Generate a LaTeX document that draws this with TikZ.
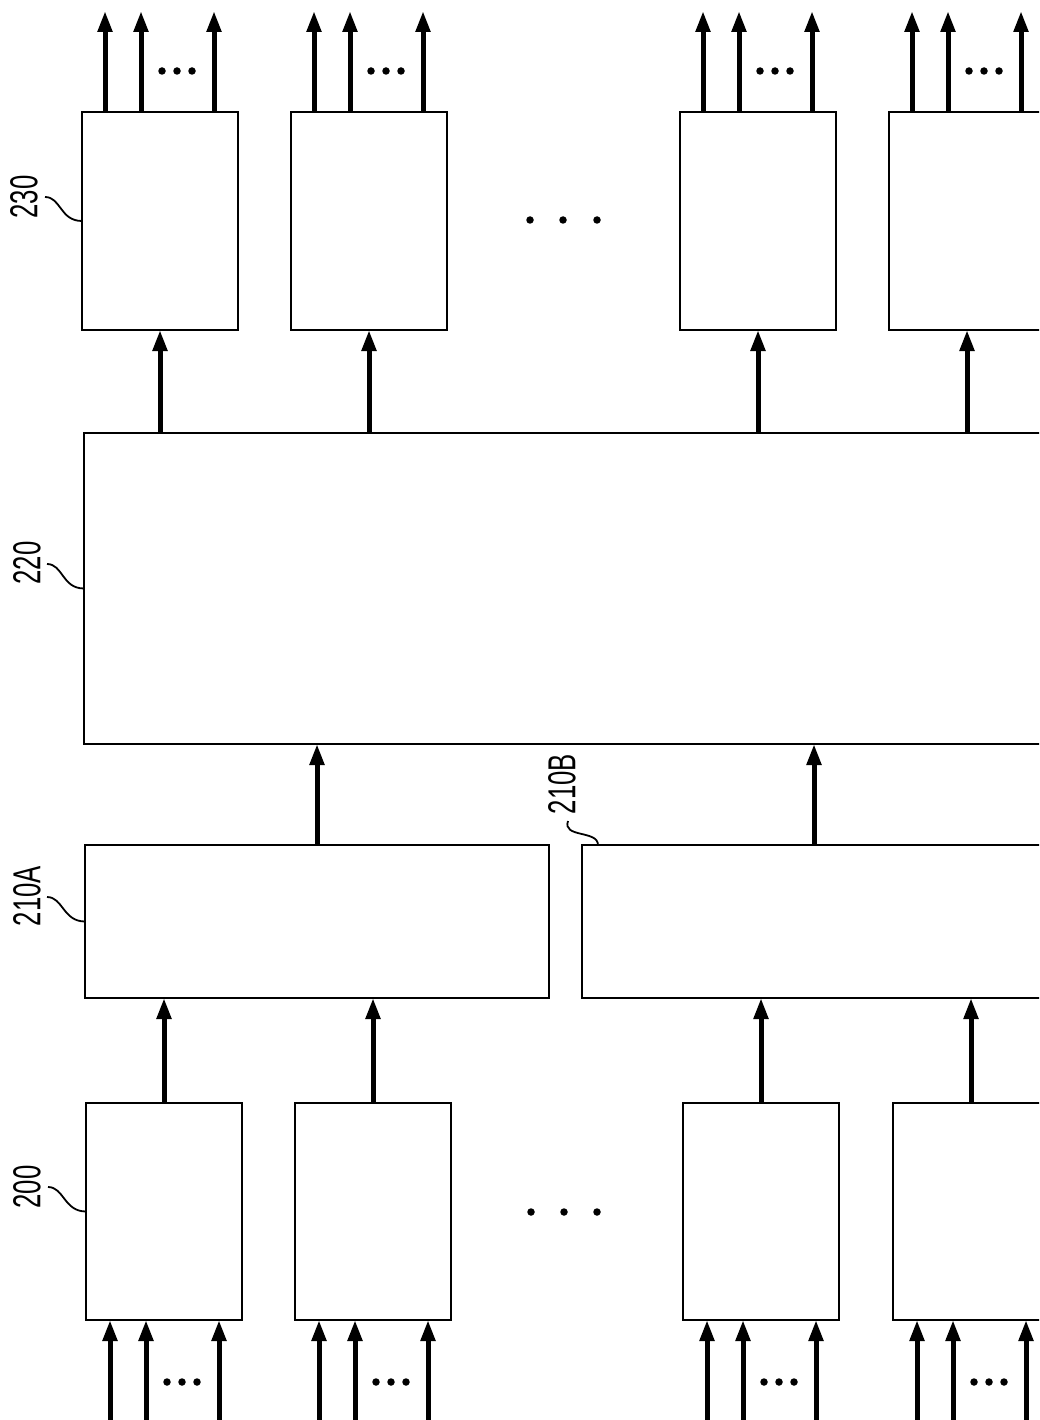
\documentclass[tikz,border=0pt]{standalone}
\usepackage{fontspec}
\newfontfamily\lblfont[FakeStretch=0.66]{Liberation Sans}
\usetikzlibrary{arrows.meta,calc}
\begin{document}
\begin{tikzpicture}[x=1pt,y=-1pt,
  box/.style={draw, line width=1.8pt, rectangle, inner sep=0pt, outer sep=0pt, anchor=north west},
  sig/.style={line width=5pt, -{Triangle[length=21pt,width=14pt]}},
  lbl/.style={font=\lblfont\fontsize{39}{39}\selectfont, rotate=90, inner sep=0pt},
  lead/.style={line width=1.8pt},
  dotn/.style={circle, fill, inner sep=0pt, minimum size=7.5pt}]
\useasboundingbox (0,0) rectangle (1039,1420);
\clip (0,0) rectangle (1039,1420);

% output boxes 230
\foreach \n/\x in {1/82,2/291,3/680,4/889}
  \node[box, minimum width=156pt, minimum height=218pt] (o\n) at (\x,112) {};
% box 220
\node[box, minimum width=962pt, minimum height=311pt] (s) at (84,433) {};
% boxes 210A, 210B
\node[box, minimum width=464pt, minimum height=153pt] (a) at (85,845) {};
\node[box, minimum width=464pt, minimum height=153pt] (b) at (582,845) {};
% input boxes 200
\foreach \n/\x in {1/86,2/295,3/683,4/893}
  \node[box, minimum width=156pt, minimum height=217pt] (i\n) at (\x,1103) {};

% output arrows
\foreach \n in {1,2,3,4} {
  \foreach \k/\dx in {a/23,b/59,c/132} {
    \coordinate (ot\n\k) at ($(o\n.north west)+(\dx,-101)$);
    \draw[sig] (o\n.north west -| ot\n\k) -- (ot\n\k);
  }
  \foreach \k/\dx in {a/80,b/95,c/110}
    \node[dotn] (od\n\k) at ($(o\n.north west)+(\dx,-41)$) {};
}

% input arrows
\foreach \n in {1,2,3,4} {
  \foreach \k/\dx in {a/24,b/60,c/133} {
    \coordinate (in\n\k) at ($(i\n.south west)+(\dx,110)$);
    \draw[sig] (in\n\k) -- (i\n.south west -| in\n\k);
  }
  \foreach \k/\dx in {a/81,b/96,c/111}
    \node[dotn] (id\n\k) at ($(i\n.south west)+(\dx,62)$) {};
}

% inter-stage arrows
\foreach \n in {1,2,3,4}
  \draw[sig] (s.north -| o\n.south) -- (o\n.south);
\draw[sig] (a.north) -- (s.south -| a.north);
\draw[sig] (b.north) -- (s.south -| b.north);
\foreach \n in {1,2}
  \draw[sig] (i\n.north) -- (a.south -| i\n.north);
\foreach \n in {3,4}
  \draw[sig] (i\n.north) -- (b.south -| i\n.north);

% ellipses between columns
\node[dotn] (e1) at (530,220) {};
\node[dotn] (e2) at (563,220) {};
\node[dotn] (e3) at (597,220) {};
\node[dotn] (f1) at (531,1212) {};
\node[dotn] (f2) at (564,1212) {};
\node[dotn] (f3) at (597,1212) {};

% labels and leaders
\node[lbl] (l230) at (24,197) {230};
\node[lbl] (l220) at (27,563) {220};
\node[lbl] (l210a) at (27,896) {210A};
\node[lbl] (l200) at (27,1187) {200};
\node[lbl] (l210b) at (562,784) {210B};

\coordinate (s230) at (45,197);
\coordinate (s220) at (47,564);
\coordinate (s210a) at (47,897);
\coordinate (s200) at (48,1187);
\coordinate (s210b) at (568,821);
\draw[lead] (s230) .. controls +(16,0) and +(-22,0) .. (o1.west);
\draw[lead] (s220) .. controls +(16,0) and +(-22,0) .. (s.west);
\draw[lead] (s210a) .. controls +(16,0) and +(-22,0) .. (a.west);
\draw[lead] (s200) .. controls +(16,0) and +(-22,0) .. (i1.west);
\draw[lead] (s210b) .. controls +(-6,17) and +(0,-15) .. ([xshift=16pt]b.north west);
\end{tikzpicture}
\end{document}
